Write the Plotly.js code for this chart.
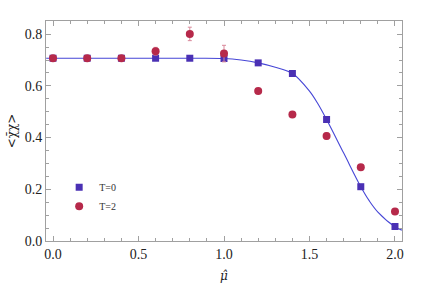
<!DOCTYPE html>
<html>
<head>
<meta charset="utf-8">
<script src="https://cdn.plot.ly/plotly-3.0.1.min.js"></script>
<style>html,body{margin:0;padding:0;background:#fff;}#chart{width:423px;height:284px;}</style>
</head>
<body>
<div id="chart"></div>
<script>
// data
var muT0 = [0.0, 0.2, 0.4, 0.6, 0.8, 1.0, 1.2, 1.4, 1.6, 1.8, 2.0];
var chiT0 = [0.707, 0.707, 0.707, 0.707, 0.707, 0.706, 0.689, 0.648, 0.470, 0.210, 0.056];

var muT2 = [0.0, 0.2, 0.4, 0.6, 0.8, 1.0, 1.2, 1.4, 1.6, 1.8, 2.0];
var chiT2 = [0.707, 0.707, 0.707, 0.734, 0.801, 0.725, 0.580, 0.489, 0.406, 0.285, 0.114];
var errT2 = [0.003, 0.003, 0.003, 0.015, 0.026, 0.032, 0.008, 0.005, 0.012, 0.005, 0.005];

var muFit = [-0.04, 0.4, 0.8, 1.0, 1.1, 1.2, 1.3, 1.4, 1.5, 1.55, 1.6, 1.7, 1.8, 1.85, 1.9, 2.0, 2.04];
var chiFit = [0.707, 0.707, 0.707, 0.706, 0.700, 0.689, 0.672, 0.648, 0.580, 0.530, 0.470, 0.340, 0.210, 0.155, 0.112, 0.055, 0.042];

var xTickVals = [0.0, 0.5, 1.0, 1.5, 2.0];
var xTickText = ["0.0", "0.5", "1.0", "1.5", "2.0"];
var yTickVals = [0.0, 0.2, 0.4, 0.6, 0.8];
var yTickText = ["0.0", "0.2", "0.4", "0.6", "0.8"];

var SERIF = 'Liberation Serif';
var TITLEFONT = '"DejaVu Serif", "Liberation Serif", serif';

function tf() { return {family: SERIF, size: 14, color: '#222'}; }
function ttf() { return {family: TITLEFONT, size: 12, color: '#222'}; }

var traces = [
  {x: muFit, y: chiFit, mode: 'lines', line: {color: '#4646d6', width: 1.1, shape: 'spline'}, showlegend: false, hoverinfo: 'skip'},
  {x: muT0, y: chiT0, mode: 'markers', name: 'T=0',
   marker: {symbol: 'square', size: 7, color: '#4a30b4'}},
  {x: muT2, y: chiT2, mode: 'markers', name: 'T=2',
   marker: {symbol: 'circle', size: 8, color: '#b6294a'},
   error_y: {type: 'data', array: errT2, visible: true, color: '#d9899a', thickness: 1, width: 2}}
];

var layout = {
  width: 423, height: 284,
  margin: {l: 46, r: 21, t: 21, b: 43},
  paper_bgcolor: '#fff', plot_bgcolor: '#fff',
  font: {family: SERIF, size: 14, color: '#222'},
  showlegend: true,
  legend: {x: 0.037, y: 0.31, xanchor: 'left', yanchor: 'top', bgcolor: 'rgba(0,0,0,0)',
           font: {family: SERIF, size: 10, color: '#333'},
           itemwidth: 30, tracegroupgap: 0},
  xaxis: {
    showgrid: false, zeroline: false, showline: true, linecolor: '#a0a0a0', linewidth: 1,
    mirror: 'ticks', ticks: 'inside', ticklen: 5, tickcolor: '#a0a0a0', tickwidth: 1,
    tickfont: tf(),
    range: [-0.041, 2.041], tickmode: 'array', tickvals: xTickVals, ticktext: xTickText,
    minor: {dtick: 0.1, ticks: 'inside', ticklen: 3, tickcolor: '#a0a0a0', showgrid: false},
    title: {text: '<i>μ̂</i>', standoff: 10, font: ttf()}
  },
  yaxis: {
    showgrid: false, zeroline: false, showline: true, linecolor: '#a0a0a0', linewidth: 1,
    mirror: 'ticks', ticks: 'inside', ticklen: 5, tickcolor: '#a0a0a0', tickwidth: 1,
    tickfont: tf(),
    range: [0, 0.851], tickmode: 'array', tickvals: yTickVals, ticktext: yTickText,
    minor: {dtick: 0.05, ticks: 'inside', ticklen: 3, tickcolor: '#a0a0a0', showgrid: false},
    title: {text: '&lt;χ̄χ&gt;', standoff: 5, font: ttf()}
  }
};

Plotly.newPlot('chart', traces, layout, {displayModeBar: false, staticPlot: true});
</script>
</body>
</html>
